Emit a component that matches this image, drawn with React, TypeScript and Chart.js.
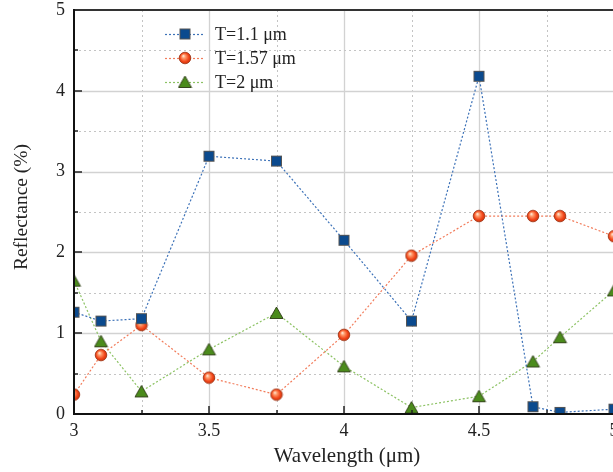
import React, { useEffect, useRef } from "react";
import { Chart, registerables } from "chart.js";

Chart.register(...registerables);

const wavelengths = [3, 3.1, 3.25, 3.5, 3.75, 4, 4.25, 4.5, 4.7, 4.8, 5];
const seriesT11 = [1.26, 1.15, 1.18, 3.19, 3.13, 2.15, 1.15, 4.18, 0.09, 0.02, 0.06];
const seriesT157 = [0.24, 0.73, 1.1, 0.45, 0.24, 0.98, 1.96, 2.45, 2.45, 2.45, 2.2];
const seriesT2 = [1.65, 0.9, 0.28, 0.8, 1.25, 0.59, 0.08, 0.22, 0.65, 0.95, 1.53];
const seriesLabels = ["T=1.1 μm", "T=1.57 μm", "T=2 μm"];
const xTickLabels = ["3", "3.5", "4", "4.5", "5"];
const yTickLabels = ["0", "1", "2", "3", "4", "5"];

const FONT = '"Liberation Serif", "DejaVu Serif", serif';

function makeSquare(): HTMLCanvasElement {
  const c = document.createElement("canvas");
  c.width = 13; c.height = 13;
  const g = c.getContext("2d")!;
  g.fillStyle = "#0b4a8e";
  g.fillRect(1, 1, 11, 11);
  g.strokeStyle = "#555";
  g.lineWidth = 1;
  g.strokeRect(1.5, 1.5, 10, 10);
  return c;
}
function makeCircle(): HTMLCanvasElement {
  const c = document.createElement("canvas");
  c.width = 14; c.height = 14;
  const g = c.getContext("2d")!;
  const grad = g.createRadialGradient(5.2, 4.8, 0, 7, 7, 6.2);
  grad.addColorStop(0, "#fff3e6");
  grad.addColorStop(0.3, "#ff9a6a");
  grad.addColorStop(0.7, "#f2461a");
  grad.addColorStop(1, "#c93008");
  g.beginPath();
  g.arc(7, 7, 5.8, 0, Math.PI * 2);
  g.fillStyle = grad;
  g.fill();
  g.strokeStyle = "#9a3010";
  g.lineWidth = 0.8;
  g.stroke();
  return c;
}
function makeTriangle(): HTMLCanvasElement {
  const c = document.createElement("canvas");
  c.width = 15; c.height = 14;
  const g = c.getContext("2d")!;
  g.beginPath();
  g.moveTo(7.5, 1);
  g.lineTo(14, 12.5);
  g.lineTo(1, 12.5);
  g.closePath();
  g.fillStyle = "#4b8b1c";
  g.fill();
  g.strokeStyle = "#2c3a14";
  g.lineWidth = 0.9;
  g.stroke();
  return c;
}

export default function App() {
  const ref = useRef<HTMLCanvasElement>(null);
  useEffect(() => {
    const canvas = ref.current!;
    const markers = [makeSquare(), makeCircle(), makeTriangle()];
    const lineColors = ["#3d72b8", "#f27d5c", "#8cc263"];
    const values = [seriesT11, seriesT157, seriesT2];

    const decor = {
      id: "decor",
      beforeDatasetsDraw(chart: any) {
        const { ctx, chartArea: a, scales } = chart;
        const xs = scales.x, ys = scales.y;
        ctx.save();
        for (let i = 1; i <= 8; i++) {
          const v = 3 + i * 0.25;
          const px = Math.round(xs.getPixelForValue(v)) + 0.5;
          const major = i % 2 === 0;
          ctx.strokeStyle = major ? "#d2d2d2" : "#c4c4c4";
          ctx.setLineDash(major ? [] : [2, 3]);
          ctx.lineWidth = major ? 1.3 : 1;
          ctx.beginPath();
          ctx.moveTo(px, a.top);
          ctx.lineTo(px, a.bottom);
          ctx.stroke();
        }
        for (let i = 1; i <= 9; i++) {
          const v = i * 0.5;
          const py = Math.round(ys.getPixelForValue(v)) + 0.5;
          const major = i % 2 === 0;
          ctx.strokeStyle = major ? "#d2d2d2" : "#c4c4c4";
          ctx.setLineDash(major ? [] : [2, 3]);
          ctx.lineWidth = major ? 1.3 : 1;
          ctx.beginPath();
          ctx.moveTo(a.left, py);
          ctx.lineTo(a.right, py);
          ctx.stroke();
        }
        ctx.restore();
      },
      afterDatasetsDraw(chart: any) {
        const { ctx, chartArea: a, scales } = chart;
        const xs = scales.x, ys = scales.y;
        ctx.save();
        ctx.setLineDash([]);
        ctx.strokeStyle = "#222";
        ctx.lineWidth = 1.5;
        for (let i = 1; i <= 8; i++) {
          const v = 3 + i * 0.25;
          const px = Math.round(xs.getPixelForValue(v));
          const len = i % 2 === 0 ? 8 : 4;
          ctx.beginPath();
          ctx.moveTo(px, a.bottom);
          ctx.lineTo(px, a.bottom - len);
          ctx.stroke();
        }
        for (let i = 1; i <= 9; i++) {
          const v = i * 0.5;
          const py = Math.round(ys.getPixelForValue(v));
          const len = i % 2 === 0 ? 8 : 4;
          ctx.beginPath();
          ctx.moveTo(a.left, py);
          ctx.lineTo(a.left + len, py);
          ctx.stroke();
        }
        ctx.lineWidth = 2;
        ctx.strokeStyle = "#333";
        ctx.beginPath();
        ctx.moveTo(a.left, a.top);
        ctx.lineTo(a.right, a.top);
        ctx.lineTo(a.right, a.bottom);
        ctx.stroke();
        ctx.strokeStyle = "#111";
        ctx.beginPath();
        ctx.moveTo(a.left, a.top - 1);
        ctx.lineTo(a.left, a.bottom);
        ctx.lineTo(a.right + 1, a.bottom);
        ctx.stroke();
        const rows = [34, 58, 82];
        for (let k = 0; k < 3; k++) {
          const y = rows[k];
          ctx.strokeStyle = lineColors[k];
          ctx.lineWidth = 1.2;
          ctx.setLineDash([2, 2]);
          ctx.beginPath();
          ctx.moveTo(165, y + 0.5);
          ctx.lineTo(204, y + 0.5);
          ctx.stroke();
          ctx.setLineDash([]);
          const m = markers[k];
          ctx.drawImage(m, 185 - m.width / 2, y - m.height / 2);
          ctx.fillStyle = "#222";
          ctx.font = `18px ${FONT}`;
          ctx.textAlign = "left";
          ctx.textBaseline = "middle";
          ctx.fillText(seriesLabels[k], 215, y + 1);
        }
        ctx.fillStyle = "#222";
        ctx.font = `21px ${FONT}`;
        ctx.textAlign = "center";
        ctx.textBaseline = "middle";
        ctx.fillText("Wavelength (μm)", 347, 456);
        ctx.save();
        ctx.translate(22, 207);
        ctx.rotate(-Math.PI / 2);
        ctx.font = `19.5px ${FONT}`;
        ctx.fillText("Reflectance (%)", 0, 0);
        ctx.restore();
        ctx.restore();
      },
    };

    const chart = new Chart(canvas, {
      type: "line",
      data: {
        datasets: values.map((vals, k) => ({
          label: seriesLabels[k],
          data: wavelengths.map((w, i) => ({ x: w, y: vals[i] })),
          borderColor: lineColors[k],
          borderWidth: 1.2,
          borderDash: [2, 2],
          pointStyle: markers[k] as any,
          pointRadius: 6,
          tension: 0,
          fill: false,
          clip: 0 as any,
        })),
      },
      options: {
        animation: false,
        responsive: false,
        devicePixelRatio: 1,
        layout: { padding: { top: 10, right: 26, left: 0, bottom: 0 } },
        plugins: { legend: { display: false }, tooltip: { enabled: false } },
        scales: {
          x: {
            type: "linear",
            min: 3,
            max: 5,
            grid: { display: false, drawTicks: false },
            border: { display: false },
            afterFit: (s: any) => { s.height = 58; },
            ticks: {
              stepSize: 0.25,
              autoSkip: false,
              maxRotation: 0,
              padding: 6,
              color: "#222",
              font: { family: FONT, size: 18 },
              callback: (v: any) => {
                const idx = Math.round((Number(v) - 3) / 0.5);
                return Math.abs(Number(v) - 3 - idx * 0.5) < 1e-6 ? xTickLabels[idx] : "";
              },
            },
          },
          y: {
            type: "linear",
            min: 0,
            max: 5,
            grid: { display: false, drawTicks: false },
            border: { display: false },
            afterFit: (s: any) => { s.width = 74; s.paddingTop = 0; s.paddingBottom = 0; },
            ticks: {
              stepSize: 0.5,
              autoSkip: false,
              padding: 9,
              color: "#222",
              font: { family: FONT, size: 18 },
              callback: (v: any) => {
                const idx = Math.round(Number(v));
                return Math.abs(Number(v) - idx) < 1e-6 ? yTickLabels[idx] : "";
              },
            },
          },
        },
      },
      plugins: [decor],
    });
    return () => chart.destroy();
  }, []);

  return (
    <div style={{ position: "fixed", left: 0, top: 0, width: 613, height: 472, overflow: "hidden", background: "#fff" }}>
      <canvas ref={ref} width={640} height={472} style={{ display: "block", width: 640, height: 472 }} />
    </div>
  );
}
